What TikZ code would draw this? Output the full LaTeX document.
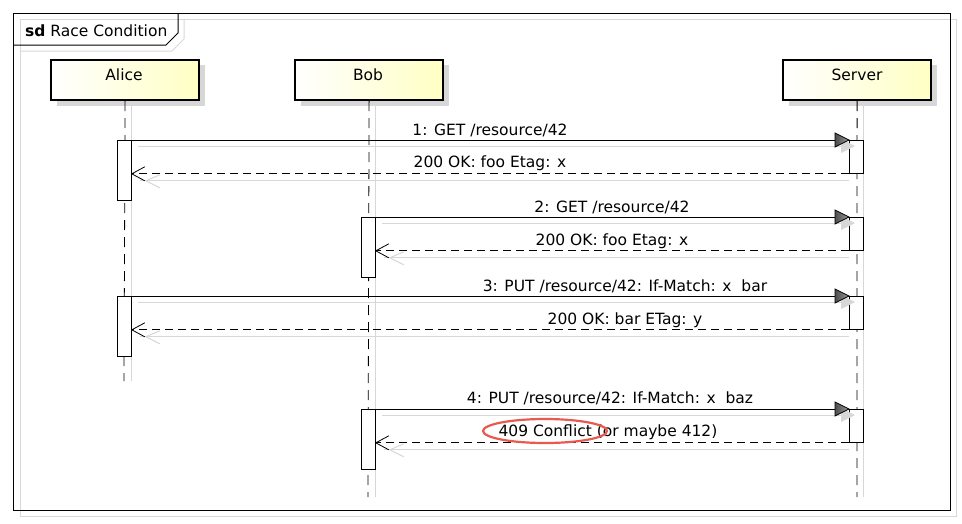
\documentclass[tikz,border=0pt]{standalone}
\usepackage{fontspec}
\setmainfont{DejaVu Sans}
\definecolor{headyel}{RGB}{255,255,196}
\definecolor{shadowgray}{RGB}{215,215,215}
\definecolor{notered}{RGB}{232,90,80}
\begin{document}
\begin{tikzpicture}[x=1pt,y=-1pt,font=\fontsize{15.5}{18}\selectfont,
  headbox/.style={draw=black,line width=2.2pt,minimum width=148pt,minimum height=40pt,inner sep=0pt,
    left color=white,right color=headyel,anchor=north west},
  actbox/.style={draw=black,fill=white,line width=0.8pt,minimum width=14pt,inner sep=0pt,anchor=north west},
  lifeline/.style={draw=black,line width=0.8pt,dash pattern=on 10pt off 7pt},
  lifeshadow/.style={draw=shadowgray,line width=1pt},
  msg/.style={draw=black,line width=0.8pt},
  retmsg/.style={draw=black,line width=0.8pt,dash pattern=on 8pt off 5pt},
  mshadow/.style={draw=shadowgray,line width=1pt},
  lbl/.style={inner sep=0pt,anchor=base}]
\useasboundingbox (0,0) rectangle (962,523);
% frame
\draw[shadowgray,line width=1pt] (20,19) rectangle (956,516);
\draw[shadowgray,line width=1pt] (20,51) -- (172,51) -- (184,39) -- (184,19);
\draw[black,line width=1pt] (13,13) rectangle (950,510);
\draw[black,line width=1pt] (13,45) -- (166,45) -- (178,33) -- (178,13);
\node[anchor=base west,inner sep=0pt] (title) at (25,36) {\textbf{sd} Race Condition};

% lifeline heads
\foreach \lx in {50,294,782}{
  \fill[shadowgray] (\lx+7,65) rectangle (\lx+155,106);
}
\node[headbox] (alice) at (50,59) {};
\node[headbox] (bob) at (294,59) {};
\node[headbox] (server) at (782,59) {};
\node[lbl] at (124,80) {Alice};
\node[lbl] at (368,80) {Bob};
\node[lbl] at (857,80) {Server};

% lifeline ends
\coordinate (aliceend) at (124,381);
\coordinate (bobend) at (368,497);
\coordinate (serverend) at (857,497);
\draw[lifeshadow] (131,106) -- (131,381);
\draw[lifeshadow] (375,106) -- (375,497);
\draw[lifeshadow] (863,106) -- (863,497);
\draw[lifeline] (alice.south) -- (aliceend);
\draw[lifeline] (bob.south) -- (bobend);
\draw[lifeline] (server.south) -- (serverend);

% activations
\node[actbox,minimum height=60pt] (a1) at (117,140) {};
\node[actbox,minimum height=33pt] (s1) at (849,140) {};
\node[actbox,minimum height=60pt] (b2) at (361,217) {};
\node[actbox,minimum height=33pt] (s2) at (849,217) {};
\node[actbox,minimum height=60pt] (a3) at (117,296) {};
\node[actbox,minimum height=33pt] (s3) at (849,296) {};
\node[actbox,minimum height=60pt] (b4) at (361,409) {};
\node[actbox,minimum height=33pt] (s4) at (849,409) {};

\foreach \src/\dst in {a1/s1,b2/s2,a3/s3,b4/s4}{
  % call shadow
  \draw[mshadow] ([xshift=6pt,yshift=-6pt]\src.north east) -- ([xshift=4pt,yshift=-6pt]\dst.north west);
  \fill[shadowgray] ([xshift=6pt,yshift=-6pt]\dst.north west) -- ++(-14,-7) -- ++(0,14) -- cycle;
  % return shadow
  \draw[mshadow] ([yshift=-7pt]\dst.south west) -- ([xshift=8pt,yshift=-7pt]\src.east |- \dst.south);
  \draw[shadowgray,line width=1pt] ([xshift=28pt,yshift=-1pt]\src.east |- \dst.south) -- ([xshift=14pt,yshift=-7pt]\src.east |- \dst.south) -- ([xshift=28pt,yshift=-14pt]\src.east |- \dst.south);
  % call
  \draw[msg] (\src.north east) -- (\dst.north west);
  \draw[black,line width=0.8pt,left color=gray!60!black,right color=gray!80] (\dst.north west) -- ++(-14,-7) -- ++(0,14) -- cycle;
  % return
  \draw[retmsg] (\dst.south west) -- (\src.east |- \dst.south);
  \draw[black,line width=0.8pt] ([xshift=13pt,yshift=7pt]\src.east |- \dst.south) -- (\src.east |- \dst.south) -- ([xshift=13pt,yshift=-7pt]\src.east |- \dst.south);
}

% labels
\node[lbl] (m1) at (490,135) {1: GET /resource/42};
\node[lbl] (r1) at (490,167) {200 OK: foo Etag: x};
\node[lbl] (m2) at (612,212) {2: GET /resource/42};
\node[lbl] (r2) at (612,245) {200 OK: foo Etag: x};
\node[lbl] (m3) at (625,291) {3: PUT /resource/42: If-Match: x\ \ bar};
\node[lbl] (r3) at (625,324) {200 OK: bar ETag: y};
\node[lbl] (m4) at (610,403) {4: PUT /resource/42: If-Match: x\ \ baz};
\node[lbl] (r4) at (608,436) {409 Conflict (or maybe 412)};
\draw[notered,line width=2.2pt] (545,431) ellipse (62pt and 12pt);
\end{tikzpicture}
\end{document}
